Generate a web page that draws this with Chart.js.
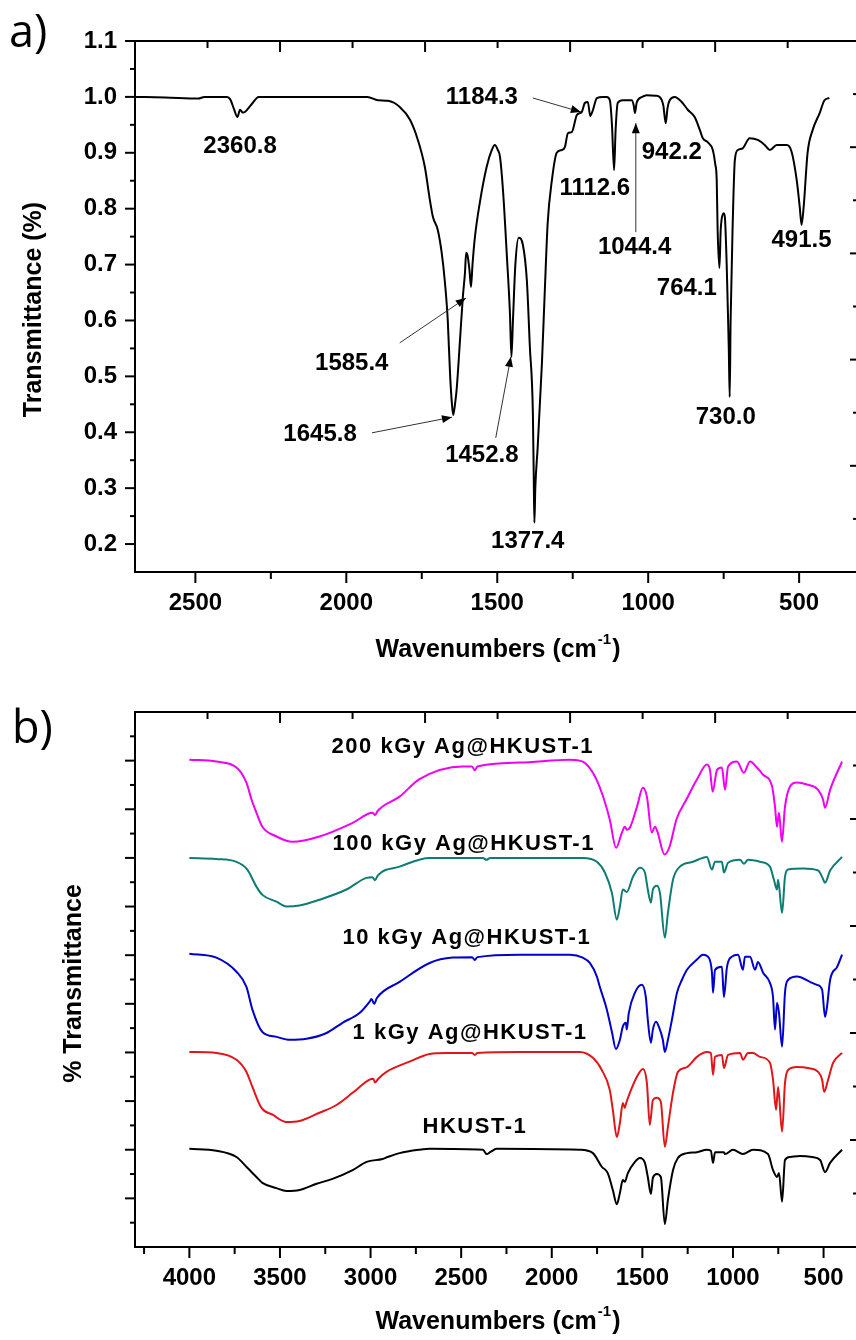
<!DOCTYPE html>
<html>
<head>
<meta charset="utf-8">
<script src="https://cdn.jsdelivr.net/npm/chart.js@4.4.1/dist/chart.umd.min.js"></script>
<style>
  html, body { margin: 0; padding: 0; background: #fff; overflow: hidden; width: 856px; height: 1340px; }
  canvas { position: absolute; left: 0; }
  #chartA { top: 0; }
  #chartB { top: 670px; }
</style>
</head>
<body>
<canvas id="chartA" width="870" height="670"></canvas>
<canvas id="chartB" width="870" height="670"></canvas>
<script>
// ---- panel a: HKUST-1, wavenumber (cm-1) vs transmittance ----
const spectrumA = [
  [2700,1.000],[2600,0.999],[2490,0.997],[2470,1.000],[2395,1.000],[2385,0.996],[2372,0.978],[2361,0.964],
  [2352,0.977],[2343,0.972],[2336,0.973],[2315,0.986],[2290,1.000],[2100,1.000],[1930,1.000],[1895,0.994],
  [1862,0.993],[1823,0.982],[1789,0.959],[1763,0.923],[1740,0.875],[1723,0.815],[1713,0.785],[1697,0.762],
  [1684,0.721],[1674,0.672],[1664,0.601],[1656,0.500],[1650,0.450],[1646,0.431],[1640,0.450],[1634,0.480],
  [1624,0.560],[1614,0.642],[1607,0.685],[1603,0.721],[1598,0.715],[1592,0.690],[1587,0.660],[1582,0.700],
  [1574,0.749],[1558,0.810],[1535,0.875],[1518,0.905],[1508,0.914],[1498,0.905],[1491,0.893],[1481,0.833],
  [1468,0.714],[1458,0.613],[1453,0.535],[1448,0.600],[1440,0.700],[1429,0.748],[1415,0.735],[1402,0.672],
  [1392,0.553],[1382,0.434],[1379,0.315],[1377,0.238],[1374,0.300],[1366,0.374],[1352,0.524],[1342,0.660],
  [1333,0.774],[1319,0.851],[1303,0.900],[1286,0.905],[1276,0.910],[1266,0.935],[1253,0.937],[1236,0.968],
  [1220,0.973],[1210,0.989],[1200,0.991],[1192,0.966],[1184,0.975],[1170,0.998],[1150,1.000],[1137,1.000],
  [1127,0.994],[1120,0.950],[1113,0.869],[1108,0.940],[1101,0.989],[1084,0.994],[1055,0.994],[1048,0.985],
  [1044,0.971],[1038,0.990],[1020,1.000],[1005,1.003],[975,1.002],[962,1.000],[950,0.985],[942,0.953],
  [936,0.980],[929,0.994],[912,1.000],[889,0.991],[869,0.977],[846,0.964],[829,0.941],[819,0.926],
  [803,0.919],[786,0.905],[778,0.880],[773,0.851],[770,0.762],[764,0.694],[760,0.760],[757,0.780],
  [750,0.792],[746,0.785],[740,0.700],[737,0.637],[733,0.550],[730,0.463],[727,0.600],[720,0.774],
  [713,0.887],[703,0.905],[687,0.908],[664,0.926],[637,0.923],[614,0.914],[597,0.905],[574,0.914],
  [541,0.914],[525,0.902],[508,0.851],[498,0.803],[492,0.771],[485,0.803],[472,0.900],[455,0.941],
  [432,0.971],[416,0.994],[400,0.998]
];
const aXTicks = [500, 1000, 1500, 2000, 2500];
const aXMinor = [750, 1250, 1750, 2250];
const aYTicks = [0.2, 0.3, 0.4, 0.5, 0.6, 0.7, 0.8, 0.9, 1.0, 1.1];
const aYMinor = [0.25, 0.35, 0.45, 0.55, 0.65, 0.75, 0.85, 0.95, 1.05];

// peak labels: text, wavenumber, transmittance (label centre)
const peakLabels = [
  ['2360.8', 2352, 0.912], ['1184.3', 1551, 1.000], ['1112.6', 1177, 0.837],
  ['942.2', 922, 0.900], ['1044.4', 1045, 0.731], ['491.5', 492, 0.744],
  ['764.1', 872, 0.658], ['730.0', 743, 0.427], ['1377.4', 1399, 0.205],
  ['1452.8', 1551, 0.358], ['1585.4', 1982, 0.524], ['1645.8', 2087, 0.397]
];
// arrows: from (wn, T) to tip (wn, T)
const peakArrows = [
  [1382, 0.998, 1223, 0.973],
  [1041, 0.758, 1041, 0.953],
  [1505, 0.390, 1455, 0.535],
  [1823, 0.560, 1604, 0.640],
  [1915, 0.399, 1650, 0.427]
];

// ---- panel b: stacked spectra (arbitrary offset units) ----
const hkust = [
  [4000,2.02],[3851,1.98],[3740,1.85],[3680,1.63],[3630,1.44],[3597,1.32],[3519,1.21],[3464,1.15],
  [3392,1.17],[3298,1.30],[3210,1.40],[3099,1.58],[3022,1.75],[2934,1.81],[2906,1.85],[2840,1.93],
  [2729,2.00],[2674,2.02],[2380,2.00],[2359,1.91],[2340,1.95],[2304,2.02],[1845,2.00],[1773,1.93],
  [1724,1.65],[1691,1.52],[1663,1.17],[1641,0.88],[1624,1.11],[1608,1.38],[1597,1.34],[1580,1.52],
  [1541,1.75],[1514,1.83],[1486,1.73],[1470,1.44],[1453,1.09],[1442,1.42],[1420,1.50],[1398,1.44],
  [1376,0.47],[1359,0.97],[1331,1.58],[1304,1.83],[1254,1.93],[1199,1.95],[1144,2.00],[1122,1.98],
  [1110,1.73],[1099,1.95],[1050,1.95],[1044,1.91],[1000,2.00],[945,1.91],[889,2.00],[807,1.91],
  [779,1.58],[757,1.44],[746,1.52],[729,0.93],[713,1.79],[685,1.85],[630,1.87],[564,1.85],
  [519,1.79],[492,1.54],[464,1.73],[398,2.00]
];
const kgy1 = [
  [4000,4.01],[3851,3.99],[3740,3.85],[3685,3.60],[3652,3.29],[3602,2.86],[3541,2.72],[3464,2.57],
  [3392,2.59],[3282,2.76],[3188,2.92],[3099,3.17],[3006,3.44],[2985,3.46],[2975,3.38],[2960,3.45],
  [2912,3.60],[2785,3.81],[2674,3.97],[2580,3.99],[2440,3.99],[2425,3.95],[2410,3.99],[2177,4.01],
  [1845,4.01],[1773,3.89],[1724,3.64],[1680,3.23],[1663,2.82],[1641,2.26],[1624,2.55],[1608,2.96],
  [1597,2.86],[1590,2.95],[1569,3.17],[1530,3.50],[1497,3.66],[1475,3.37],[1459,2.51],[1442,3.02],
  [1420,3.07],[1398,2.98],[1376,2.06],[1359,2.47],[1331,3.17],[1304,3.60],[1254,3.70],[1199,3.91],
  [1144,4.01],[1122,3.99],[1110,3.54],[1099,3.91],[1061,3.95],[1050,3.68],[1027,3.95],[961,3.99],
  [945,3.85],[917,3.99],[889,3.99],[851,3.91],[796,3.79],[779,3.44],[762,2.82],[751,3.29],
  [729,2.37],[713,3.37],[696,3.64],[646,3.70],[586,3.68],[530,3.60],[508,3.44],[497,3.19],
  [475,3.44],[447,3.79],[398,3.99]
];
const kgy10 = [
  [4000,6.03],[3851,5.95],[3740,5.66],[3685,5.35],[3652,4.88],[3597,4.42],[3519,4.32],[3447,4.26],
  [3354,4.28],[3243,4.40],[3155,4.61],[3061,4.81],[3006,5.04],[2995,5.10],[2980,5.00],[2965,5.12],
  [2840,5.45],[2674,5.84],[2547,5.95],[2440,5.96],[2425,5.90],[2410,5.96],[2177,6.01],[1900,6.01],
  [1829,5.95],[1790,5.84],[1751,5.56],[1735,5.35],[1696,4.88],[1668,4.42],[1646,4.07],[1624,4.26],
  [1608,4.53],[1591,4.61],[1586,4.47],[1575,4.81],[1541,5.23],[1503,5.39],[1481,5.14],[1470,4.67],
  [1453,4.20],[1442,4.47],[1425,4.63],[1409,4.53],[1387,4.26],[1376,4.01],[1359,4.26],[1337,4.67],
  [1309,5.23],[1282,5.49],[1254,5.70],[1199,5.91],[1166,6.01],[1138,5.97],[1116,5.64],[1110,5.23],
  [1099,5.70],[1061,5.76],[1050,5.14],[1033,5.76],[1006,5.97],[972,6.01],[945,5.70],[934,5.97],
  [906,5.97],[878,5.70],[862,5.86],[834,5.64],[796,5.43],[779,5.14],[768,4.47],[757,5.02],
  [746,4.81],[729,4.12],[713,5.23],[696,5.49],[646,5.56],[575,5.45],[536,5.39],[508,5.29],
  [492,4.73],[481,4.94],[464,5.49],[425,5.76],[398,6.01]
];
const kgy100 = [
  [4000,8.00],[3851,7.98],[3740,7.92],[3680,7.76],[3630,7.41],[3597,7.24],[3519,7.10],[3464,7.00],
  [3392,7.02],[3282,7.14],[3133,7.35],[3022,7.59],[2990,7.60],[2975,7.54],[2960,7.64],[2840,7.82],
  [2674,8.00],[2380,8.00],[2360,7.96],[2340,8.00],[1829,8.00],[1751,7.92],[1707,7.70],[1668,7.28],
  [1641,6.73],[1624,7.00],[1608,7.35],[1586,7.30],[1552,7.61],[1514,7.80],[1486,7.70],[1470,7.35],
  [1453,7.08],[1442,7.35],[1420,7.43],[1403,7.28],[1376,6.36],[1359,6.87],[1331,7.55],[1293,7.82],
  [1221,7.92],[1144,8.02],[1116,7.76],[1099,7.92],[1061,7.92],[1050,7.70],[1027,7.90],[961,7.96],
  [940,7.88],[917,7.96],[851,7.92],[796,7.82],[774,7.55],[757,7.35],[751,7.55],[729,6.87],
  [713,7.61],[696,7.76],[613,7.78],[530,7.74],[508,7.61],[492,7.49],[464,7.74],[398,8.02]
];
const kgy200 = [
  [4000,10.02],[3851,9.98],[3740,9.86],[3685,9.55],[3657,9.20],[3630,8.93],[3597,8.64],[3519,8.44],
  [3431,8.33],[3282,8.44],[3099,8.72],[2989,8.93],[2975,8.88],[2960,8.97],[2840,9.26],[2730,9.62],
  [2492,9.88],[2440,9.88],[2425,9.80],[2410,9.88],[2177,9.96],[1900,10.02],[1829,9.98],[1773,9.75],
  [1724,9.34],[1680,8.79],[1645,8.21],[1613,8.52],[1597,8.64],[1585,8.58],[1569,8.62],[1530,9.05],
  [1497,9.44],[1475,9.26],[1448,8.52],[1431,8.64],[1417,8.54],[1378,8.07],[1350,8.23],[1312,8.79],
  [1257,9.20],[1199,9.61],[1144,9.92],[1127,9.81],[1112,9.36],[1088,9.81],[1061,9.86],[1044,9.40],
  [1027,9.88],[978,9.98],[940,9.75],[906,9.98],[868,9.86],[834,9.71],[784,9.47],[768,9.05],
  [757,8.64],[746,8.93],[730,8.33],[713,9.05],[685,9.47],[647,9.55],[592,9.51],[530,9.40],
  [503,9.20],[492,9.03],[464,9.40],[398,9.98]
];
const bSeries = [hkust, kgy1, kgy10, kgy100, kgy200];
const bNames = ['HKUST-1', '1 kGy Ag@HKUST-1', '10 kGy Ag@HKUST-1', '100 kGy Ag@HKUST-1', '200 kGy Ag@HKUST-1'];
const bColors = ['#000000', '#e0161b', '#0000cc', '#0e7c73', '#f000f0'];
// where each name sits (left edge wavenumber, offset units)
const bNameAnchors = [[2713, 2.47], [3099, 4.40], [3155, 6.36], [3210, 8.29], [3215, 10.29]];
const bXTicks = [500, 1000, 1500, 2000, 2500, 3000, 3500, 4000];
const bXMinor = [750, 1250, 1750, 2250, 2750, 3250, 3750, 4250];
const bYTicks = [1, 2, 3, 4, 5, 6, 7, 8, 9, 10];
const bYMinor = [0.5, 1.5, 2.5, 3.5, 4.5, 5.5, 6.5, 7.5, 8.5, 9.5, 10.5];

const FONT = '"Liberation Sans", Arial, sans-serif';
Chart.defaults.font.family = FONT;
Chart.defaults.color = '#000';

function toPoints(arr) {
  return arr.map(([x, y]) => ({ x: x, y: y }));
}

function drawArrow(ctx, x1, y1, x2, y2) {
  ctx.strokeStyle = '#333';
  ctx.lineWidth = 1;
  ctx.beginPath();
  ctx.moveTo(x1, y1);
  ctx.lineTo(x2, y2);
  ctx.stroke();
  const ang = Math.atan2(y2 - y1, x2 - x1);
  const len = 10, w = 4;
  const bx = x2 - len * Math.cos(ang), by = y2 - len * Math.sin(ang);
  ctx.fillStyle = '#000';
  ctx.beginPath();
  ctx.moveTo(x2, y2);
  ctx.lineTo(bx + w * Math.sin(ang), by - w * Math.cos(ang));
  ctx.lineTo(bx - w * Math.sin(ang), by + w * Math.cos(ang));
  ctx.closePath();
  ctx.fill();
}

// frame, ticks on all four sides, axis titles and panel letter
function framePlugin(o) {
  return {
    id: 'frame',
    afterDraw(chart) {
      const ctx = chart.ctx, a = chart.chartArea, s = chart.scales;
      ctx.save();
      ctx.strokeStyle = '#000';
      ctx.lineWidth = 2;
      ctx.strokeRect(a.left, a.top, a.right - a.left, a.bottom - a.top);
      const seg = (x1, y1, x2, y2) => { ctx.beginPath(); ctx.moveTo(x1, y1); ctx.lineTo(x2, y2); ctx.stroke(); };
      o.xMajor.forEach(v => { const p = s.x.getPixelForValue(v); seg(p, a.bottom, p, a.bottom + 11); });
      o.xMinor.forEach(v => { const p = s.x.getPixelForValue(v); if (p > a.left) seg(p, a.bottom, p, a.bottom + 7); });
      o.yMajor.forEach(v => { const p = s.y.getPixelForValue(v); seg(a.left - 10, p, a.left, p); });
      o.yMinor.forEach(v => { const p = s.y.getPixelForValue(v); seg(a.left - 5, p, a.left, p); });
      for (let i = 1; i <= 9; i++) {
        const p = s.xTop.getPixelForValue(i);
        seg(p, a.top, p, a.top + (i % 2 ? 7 : 11));
        const q = s.yRight.getPixelForValue(i);
        seg(a.right, q, a.right - (i % 2 ? 5 : 8), q);
      }

      ctx.fillStyle = '#000';
      // x title with superscript
      const main = 'Wavenumbers (cm', sup = '-1', close = ')';
      ctx.font = 'bold 25px ' + FONT;
      const wMain = ctx.measureText(main).width, wClose = ctx.measureText(close).width;
      ctx.font = 'bold 15px ' + FONT;
      const wSup = ctx.measureText(sup).width;
      const cx = a.left + o.xTitleDx, cy = a.bottom + o.xTitleDy;
      let x0 = cx - (wMain + wSup + wClose) / 2;
      ctx.textAlign = 'left';
      ctx.textBaseline = 'middle';
      ctx.font = 'bold 25px ' + FONT;
      ctx.fillText(main, x0, cy);
      ctx.font = 'bold 15px ' + FONT;
      ctx.fillText(sup, x0 + wMain + 1, cy - 10);
      ctx.font = 'bold 25px ' + FONT;
      ctx.fillText(close, x0 + wMain + wSup + 2, cy);

      // y title
      ctx.save();
      ctx.translate(o.yTitleX, (a.top + a.bottom) / 2 + o.yTitleDy);
      ctx.rotate(-Math.PI / 2);
      ctx.textAlign = 'center';
      ctx.fillText(o.yTitle, 0, 0);
      ctx.restore();

      // panel letter
      ctx.font = '45px "Open Sans", sans-serif';
      ctx.textAlign = 'left';
      ctx.textBaseline = 'alphabetic';
      ctx.fillText(o.letter, o.letterX, o.letterY);
      ctx.restore();
    }
  };
}

const peakPlugin = {
  id: 'peaks',
  afterDatasetsDraw(chart) {
    const ctx = chart.ctx, x = chart.scales.x, y = chart.scales.y;
    ctx.save();
    peakArrows.forEach(([v1, t1, v2, t2]) => {
      drawArrow(ctx, x.getPixelForValue(v1), y.getPixelForValue(t1), x.getPixelForValue(v2), y.getPixelForValue(t2));
    });
    ctx.font = 'bold 24px ' + FONT;
    ctx.fillStyle = '#000';
    ctx.textAlign = 'center';
    ctx.textBaseline = 'middle';
    peakLabels.forEach(([t, v, T]) => ctx.fillText(t, x.getPixelForValue(v), y.getPixelForValue(T)));
    ctx.restore();
  }
};

const namePlugin = {
  id: 'names',
  afterDatasetsDraw(chart) {
    const ctx = chart.ctx, x = chart.scales.x, y = chart.scales.y;
    ctx.save();
    ctx.font = 'bold 22px ' + FONT;
    ctx.letterSpacing = '1.5px';
    ctx.fillStyle = '#000';
    ctx.textAlign = 'left';
    ctx.textBaseline = 'middle';
    bNames.forEach((n, i) => {
      ctx.fillText(n, x.getPixelForValue(bNameAnchors[i][0]), y.getPixelForValue(bNameAnchors[i][1]));
    });
    ctx.restore();
  }
};

function baseScales(xMin, xMax, xTicks, yMin, yMax, yTicks, xHeight, showY) {
  return {
    x: {
      type: 'linear', position: 'bottom', reverse: true, min: xMin, max: xMax,
      afterBuildTicks: s => { s.ticks = xTicks.map(v => ({ value: v })); },
      afterFit: s => { s.height = xHeight; },
      grid: { display: false, drawTicks: true, tickLength: 10 },
      border: { display: false },
      ticks: {
        autoSkip: false, maxRotation: 0, padding: 7, color: '#000',
        font: { size: 24, weight: 'bold' },
        callback: v => String(v)
      }
    },
    y: {
      type: 'linear', position: 'left', min: yMin, max: yMax,
      afterBuildTicks: s => { s.ticks = yTicks.map(v => ({ value: v })); },
      afterFit: s => { s.width = 135; },
      grid: { display: false, drawTicks: true, tickLength: 10 },
      border: { display: false },
      ticks: {
        display: showY, padding: 8, color: '#000',
        font: { size: 24, weight: 'bold' },
        callback: v => v.toFixed(1)
      }
    },
    xTop: { type: 'linear', axis: 'x', position: 'top', display: false, min: 0, max: 9.97 },
    yRight: { type: 'linear', axis: 'y', position: 'right', display: false, min: 0, max: 10 }
  };
}

new Chart(document.getElementById('chartA').getContext('2d'), {
  type: 'line',
  data: {
    datasets: [{
      data: toPoints(spectrumA),
      borderColor: '#000',
      borderWidth: 2,
      pointRadius: 0,
      cubicInterpolationMode: 'monotone'
    }]
  },
  options: {
    responsive: false,
    animation: false,
    layout: { padding: { left: 0, right: 12, top: 41, bottom: 0 } },
    scales: baseScales(305, 2700, aXTicks, 0.15, 1.1, aYTicks, 98, true),
    plugins: { legend: { display: false }, tooltip: { enabled: false } }
  },
  plugins: [peakPlugin, framePlugin({
    xMajor: aXTicks, xMinor: aXMinor, yMajor: aYTicks, yMinor: aYMinor,
    xTitleDx: 362, xTitleDy: 78, yTitle: 'Transmittance (%)', yTitleX: 34, yTitleDy: 3,
    letter: 'a)', letterX: 9, letterY: 47
  })]
});

new Chart(document.getElementById('chartB').getContext('2d'), {
  type: 'line',
  data: {
    datasets: bSeries.map((d, i) => ({
      label: bNames[i],
      data: toPoints(d),
      borderColor: bColors[i],
      borderWidth: 2,
      pointRadius: 0,
      cubicInterpolationMode: 'monotone'
    }))
  },
  options: {
    responsive: false,
    animation: false,
    layout: { padding: { left: 0, right: 12, top: 42, bottom: 0 } },
    scales: baseScales(310, 4300, bXTicks, 0, 11, bYTicks, 93, false),
    plugins: { legend: { display: false }, tooltip: { enabled: false } }
  },
  plugins: [namePlugin, framePlugin({
    xMajor: bXTicks, xMinor: bXMinor, yMajor: bYTicks, yMinor: bYMinor,
    xTitleDx: 362, xTitleDy: 75, yTitle: '% Transmittance', yTitleX: 74, yTitleDy: 4,
    letter: 'b)', letterX: 12, letterY: 73
  })]
});
</script>
</body>
</html>
